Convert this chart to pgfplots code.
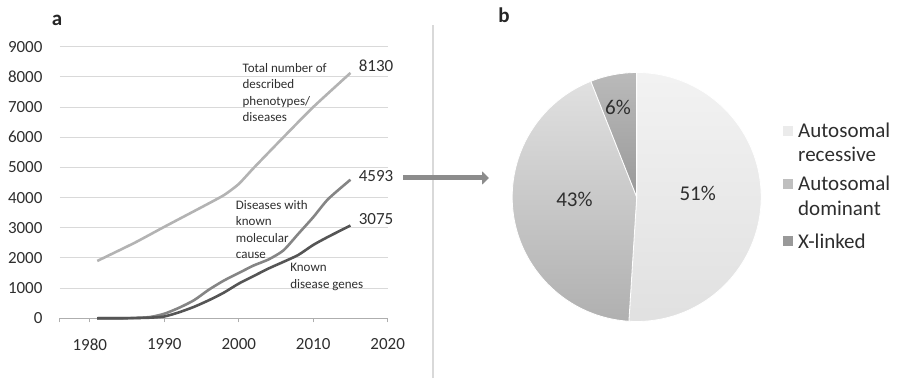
\documentclass[border=0pt]{standalone}
\usepackage{pgfplots}
\pgfplotsset{compat=1.18}
\usepackage{fontspec}
\setmainfont{Carlito}
\usetikzlibrary{arrows.meta}
\definecolor{txt}{HTML}{2E2E2E}
\definecolor{gridc}{HTML}{D9D9D9}
\definecolor{ltot}{HTML}{B3B3B3}
\definecolor{lmol}{HTML}{858585}
\definecolor{lgen}{HTML}{555555}
\begin{document}
\begin{tikzpicture}[x=1pt,y=1pt]
\begin{axis}[
  at={(60pt,59.7pt)}, anchor=south west,
  scale only axis, width=327.7pt, height=271.6pt,
  xmin=1976, xmax=2020, ymin=0, ymax=9000,
  axis x line*=bottom, axis y line*=left,
  y axis line style={draw=none},
  x axis line style={draw=gridc!80!black, line width=1pt},
  xtick={1980,1990,2000,2010,2020},
  extra x ticks={1976}, extra x tick labels={},
  extra x tick style={grid=none},
  ytick={0,1000,...,9000},
  ytick style={draw=none},
  xtick style={draw=gridc!80!black, line width=1pt},
  tick align=outside, major tick length=4pt,
  ymajorgrids, grid style={gridc, line width=1pt},
  /pgf/number format/1000 sep={},
  /pgf/number format/assume math mode=true,
  tick label style={font=\fontsize{17}{20}\selectfont, text=txt},
  yticklabel style={xshift=-10pt},
  xticklabel style={yshift=-13pt},
  clip=false,
]
\addplot[ltot, line width=2.6pt, smooth, tension=0.35] coordinates {
 (1981,1900) (1986,2500) (1990,3030) (1995,3680) (1998,4080) (2000,4450)
 (2002,4980) (2006,6000) (2010,7000) (2015,8130)};
\addplot[lmol, line width=2.6pt, smooth, tension=0.4] coordinates {
 (1981,0) (1985,5) (1988,40) (1990,150) (1992,350) (1994,600) (1996,950)
 (1998,1250) (2000,1500) (2002,1750) (2004,1950) (2006,2250) (2008,2800)
 (2010,3350) (2012,3950) (2015,4593)};
\addplot[lgen, line width=2.6pt, smooth, tension=0.4] coordinates {
 (1981,0) (1985,3) (1988,20) (1990,60) (1992,200) (1994,380) (1996,600)
 (1998,850) (2000,1150) (2002,1400) (2004,1650) (2006,1870) (2008,2100)
 (2010,2430) (2012,2700) (2015,3075)};
\node[anchor=north west, align=left, inner sep=0pt, text=txt,
  font=\fontsize{13}{16.3}\selectfont] at (axis cs:2000.5,8450)
  {Total number of\\described\\phenotypes/\\diseases};
\node[anchor=north west, align=left, inner sep=0pt, text=txt,
  font=\fontsize{13}{16.5}\selectfont] at (axis cs:1999.6,3920)
  {Diseases with\\known\\molecular\\cause};
\node[anchor=north west, align=left, inner sep=0pt, text=txt,
  font=\fontsize{13}{16.5}\selectfont] at (axis cs:2006.9,1820)
  {Known\\disease genes};
\node[anchor=west, inner sep=0pt, text=txt, font=\fontsize{17}{20}\selectfont]
  at (axis cs:2016.1,8360) {8130};
\node[anchor=west, inner sep=0pt, text=txt, font=\fontsize{17}{20}\selectfont]
  at (axis cs:2016.1,4725) {4593};
\node[anchor=west, inner sep=0pt, text=txt, font=\fontsize{17}{20}\selectfont]
  at (axis cs:2016.1,3290) {3075};
\end{axis}
% divider and arrow
\draw[gridc, line width=1.2pt] (433,0) -- (433,353);
\draw[color=black!45, line width=5pt, -{Triangle[length=7pt,width=13pt]}] (403,200) -- (489,200);
% panel letters
\node[font=\fontsize{21}{24}\selectfont\bfseries, text=black!85] at (57,358) {a};
\node[font=\fontsize{21}{24}\selectfont\bfseries, text=black!85] at (504,363) {b};
% pie
\def\pAR{51}\def\pAD{43}\def\pXL{6}
\pgfmathsetmacro\aA{90}
\pgfmathsetmacro\aB{90-3.6*\pAR}
\pgfmathsetmacro\aC{\aB-3.6*\pAD}
\pgfmathsetmacro\aD{\aC-3.6*\pXL}
\begin{axis}[at={(636.7pt,181pt)}, anchor=center, x=124.5pt, y=124.5pt,
  xmin=-1, xmax=1, ymin=-1, ymax=1, hide axis, clip=false]
\shade[top color=black!5, bottom color=black!12, draw=white, line width=0.8pt]
  (axis cs:0,0) -- (axis cs:{cos(\aA)},{sin(\aA)}) arc[start angle=\aA, end angle=\aB, radius=124.5pt] -- cycle;
\shade[top color=black!12, bottom color=black!31, draw=white, line width=0.8pt]
  (axis cs:0,0) -- (axis cs:{cos(\aB)},{sin(\aB)}) arc[start angle=\aB, end angle=\aC, radius=124.5pt] -- cycle;
\shade[top color=black!27, bottom color=black!40, draw=white, line width=0.8pt]
  (axis cs:0,0) -- (axis cs:{cos(\aC)},{sin(\aC)}) arc[start angle=\aC, end angle=\aD, radius=124.5pt] -- cycle;
\node[text=txt, font=\fontsize{21}{24}\selectfont] at (axis cs:0.49,0.03) {\pAR\%};
\node[text=txt, font=\fontsize{21}{24}\selectfont] at (axis cs:-0.50,-0.02) {\pAD\%};
\node[text=txt, font=\fontsize{21}{24}\selectfont] at (axis cs:-0.15,0.72) {\pXL\%};
\end{axis}
% legend
\fill[black!8] (783,242) rectangle (793,252);
\fill[black!25] (783,189) rectangle (793,199);
\fill[black!40] (783,132) rectangle (793,142);
\node[anchor=west, inner sep=0pt, text=txt, font=\fontsize{21}{24}\selectfont] at (798,248) {Autosomal};
\node[anchor=west, inner sep=0pt, text=txt, font=\fontsize{21}{24}\selectfont] at (798,224) {recessive};
\node[anchor=west, inner sep=0pt, text=txt, font=\fontsize{21}{24}\selectfont] at (798,195) {Autosomal};
\node[anchor=west, inner sep=0pt, text=txt, font=\fontsize{21}{24}\selectfont] at (798,170) {dominant};
\node[anchor=west, inner sep=0pt, text=txt, font=\fontsize{21}{24}\selectfont] at (798,137) {X-linked};
\pgfresetboundingbox
\path[use as bounding box] (0,0) rectangle (898,378);
\end{tikzpicture}
\end{document}
